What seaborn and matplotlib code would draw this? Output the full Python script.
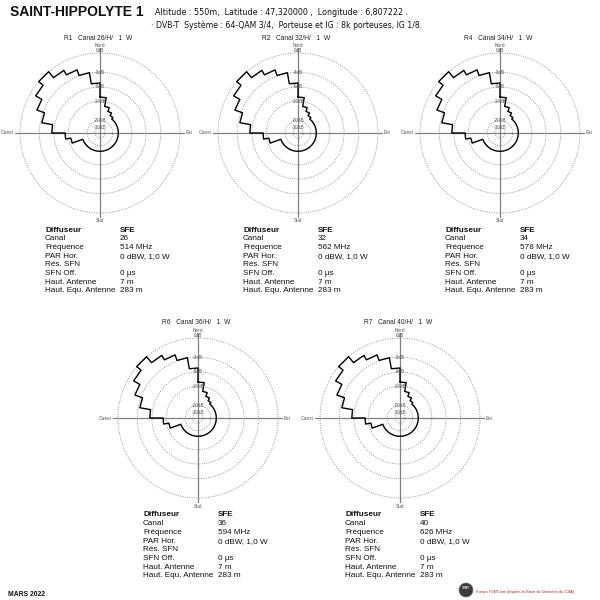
import numpy as np
import pandas as pd
import matplotlib
matplotlib.use("Agg")
import matplotlib.pyplot as plt
from matplotlib.patches import Circle
import seaborn as sns

# ---------------- data ----------------
site = "SAINT-HIPPOLYTE 1"
header1 = "Altitude : 550m,  Latitude : 47,320000 ,  Longitude : 6,807222 ."
header2 = "· DVB-T  Système : 64-QAM 3/4,  Porteuse et IG : 8k porteuses, IG 1/8."
date_text = "MARS 2022"
credit = "Forum TVNT.net (d'après la Base de Données du CSA)"

mux = ["R1", "R2", "R4", "R6", "R7"]
canal = [26, 32, 34, 36, 40]
freq_mhz = [514, 562, 578, 594, 626]
polarisation = "H"
power_w = 1
diffuseur = "SFE"
par_hor = "0 dBW, 1,0 W"
res_sfn = ""
sfn_off = "0 µs"
haut_antenne = "7 m"
haut_equ = "283 m"

# antenna pattern: attenuation (dB) per 10° sector, azimuth clockwise from North
sector_start_deg = [0, 10, 20, 30, 40, 50, 60, 70, 80, 90, 100, 110,
                    120, 130, 140, 150, 160, 170, 180, 190, 200, 210, 220, 230,
                    240, 250, 260, 270, 280, 290, 300, 310, 320, 330, 340, 350]
attenuation_db = [-8.7, -11.8, -13.5, -15.0, -16.0, -16.0, -16.0, -16.0, -16.0, -16.0, -16.0, -16.0,
                  -16.0, -16.0, -16.0, -16.0, -16.0, -16.0, -16.0, -16.0, -16.0, -16.0, -16.0, -16.0,
                  -16.0, -10.8, -9.0, -5.5, -3.3, -1.9, -0.8, 0.0, -1.1, -1.9, -2.9, -5.1]

ring_db = [0, -3, -6, -10, -20, -30]
ring_labels = ["0dB", "-3dB", "-6dB", "-10dB", "-20dB", "-30dB"]


def db_to_r(db):
    return 10 ** (np.asarray(db, dtype=float) / 25.0)


# ---------------- layout ----------------
W = H = 600
centers = [(100, 133), (298, 133), (500, 133), (198, 418), (400, 418)]
R_PX = 80.0
EXT = 85.0

sns.set_style("white")
plt.rcParams["font.family"] = ["Liberation Sans", "DejaVu Sans"]

fig = plt.figure(figsize=(6, 6), dpi=100)
fig.patch.set_facecolor("white")


def fx(x):
    return x / W


def fy(y):
    return 1 - y / H


# staircase pattern
th, rr = [], []
for s, a in zip(sector_start_deg, attenuation_db):
    th += [np.radians(s), np.radians(s + 10)]
    rr += [float(db_to_r(a))] * 2
th.append(2 * np.pi)
rr.append(float(db_to_r(attenuation_db[0])))
pattern = pd.DataFrame({"theta": th, "r": rr})

rmax = EXT / R_PX
for i, (cx, cy) in enumerate(centers):
    ax = fig.add_axes([(cx - EXT) / W, (H - cy - EXT) / H, 2 * EXT / W, 2 * EXT / H],
                      projection="polar")
    ax.set_theta_zero_location("N")
    ax.set_theta_direction(-1)
    ax.set_facecolor("none")
    sns.lineplot(data=pattern, x="theta", y="r", ax=ax, sort=False, estimator=None,
                 color="black", lw=1.0, zorder=5)
    ax.set_xlabel("")
    ax.set_ylabel("")
    ax.set_ylim(0, rmax)
    ax.set_yticks(db_to_r(ring_db))
    ax.set_yticklabels([])
    ax.set_xticks(np.radians([0, 90, 180, 270]))
    ax.set_xticklabels([])
    ax.yaxis.grid(True, color="#8a8a8a", ls=(0, (1.2, 1.6)), lw=0.6)
    ax.xaxis.grid(True, color="#808080", ls="-", lw=0.9)
    ax.spines["polar"].set_visible(False)

    # ring labels on the north axis
    for db, lab in zip(ring_db, ring_labels):
        r = float(db_to_r(db))
        if db == 0:
            ax.text(0, r + 0.03, lab, ha="center", va="center", fontsize=3.4,
                    color="#555555", clip_on=False, zorder=6)
        else:
            ax.text(0, r, lab, ha="center", va="center", fontsize=3.4,
                    color="#555555", clip_on=False, zorder=6)
    ax.text(0, 1.09, "Nord", ha="center", va="center", fontsize=3.4, color="#555555", clip_on=False)
    ax.text(np.pi, 1.10, "Sud", ha="center", va="center", fontsize=3.4, color="#555555", clip_on=False)
    ax.text(np.pi / 2, 1.075, "Est", ha="left", va="center", fontsize=3.4, color="#555555", clip_on=False)
    ax.text(3 * np.pi / 2, 1.075, "Ouest", ha="right", va="center", fontsize=3.4, color="#555555", clip_on=False)

    # chart title
    fig.text(fx(cx - 2), fy(cy - 95), f"{mux[i]}   Canal {canal[i]}/{polarisation}/   {power_w}  W",
             ha="center", va="center", fontsize=4.8, color="#222222")

    # info block
    rows = [("Diffuseur", diffuseur), ("Canal", str(canal[i])), ("Fréquence", f"{freq_mhz[i]} MHz"),
            ("PAR Hor.", par_hor), ("Rés. SFN", res_sfn), ("SFN Off.", sfn_off),
            ("Haut. Antenne", haut_antenne), ("Haut. Equ. Antenne", haut_equ)]
    x0 = cx - 55
    x1 = cx + 20
    y0 = cy + 97
    for k, (lab, val) in enumerate(rows):
        wgt = "bold" if k == 0 else "normal"
        yy = y0 + k * 8.7
        fig.text(fx(x0), fy(yy), lab, ha="left", va="center", fontsize=5.9, weight=wgt, color="#111111")
        fig.text(fx(x1), fy(yy), val, ha="left", va="center", fontsize=5.9, weight=wgt, color="#111111")

# headers
fig.text(fx(10), fy(15.5), site, ha="left", va="baseline", fontsize=10, weight="bold", color="#111111")
fig.text(fx(155), fy(15), header1, ha="left", va="baseline", fontsize=5.8,
         family=["DejaVu Sans"], color="#111111")
fig.text(fx(151), fy(28), header2, ha="left", va="baseline", fontsize=5.55,
         family=["DejaVu Sans"], color="#111111")

# footer
fig.text(fx(8), fy(594), date_text, ha="left", va="center", fontsize=4.9, weight="bold", color="#111111")
fig.patches.append(Circle((fx(466), fy(590)), 7 / W, transform=fig.transFigure,
                          facecolor="#3a3a3a", edgecolor="#777777", lw=0.5))
fig.text(fx(466), fy(588), "TVNT", ha="center", va="center", fontsize=2.2, color="white", weight="bold")
fig.text(fx(476), fy(592), credit, ha="left", va="center", fontsize=2.9, color="#b22222")

fig.savefig("out.png", dpi=100, facecolor="white")
